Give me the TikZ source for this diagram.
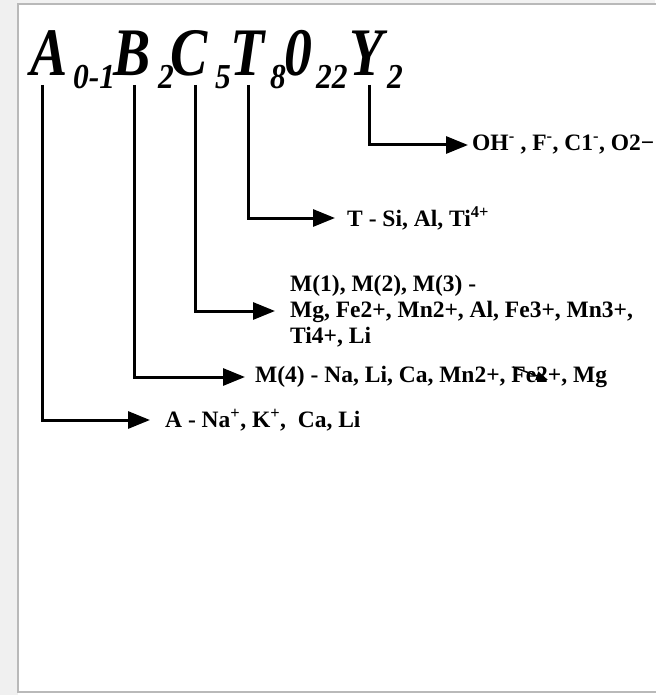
\documentclass[tikz,border=0pt]{standalone}
\usepackage{fontspec}
\usepackage{graphicx}
\setmainfont{Liberation Serif}
\usetikzlibrary{arrows.meta}
\newcommand{\bigsym}[1]{\scalebox{0.82}[1]{#1}}
\newcommand{\subsym}[1]{\scalebox{0.9}[1]{#1}}
\begin{document}
\begin{tikzpicture}[x=1pt,y=-1pt,
  big/.style={anchor=base west,inner sep=0pt,font=\fontsize{68}{68}\selectfont\bfseries\itshape},
  sub/.style={anchor=base west,inner sep=0pt,font=\fontsize{35}{35}\selectfont\bfseries\itshape},
  lab/.style={anchor=west,inner xsep=0pt,inner ysep=0pt,font=\fontsize{23.5}{26}\selectfont\bfseries,align=left},
  conn/.style={line width=3pt,-{Triangle[length=22pt,width=17pt]}},
  frame/.style={draw=gray!55,line width=1.5pt}]
\useasboundingbox (0,0) rectangle (655,695);
\fill[gray!10] (0,0) rectangle (655,4);
\fill[gray!12] (0,0) rectangle (18,695);
\fill[white] (18,4) rectangle (655,692);
\draw[frame] (660,4) -- (18,4) -- (18,692) -- (660,692);
% formula
\node[big] (A) at (30,76) {\bigsym{A}};
\node[sub] (s1) at (73,89) {\subsym{0-1}};
\node[big] (B) at (113,76) {\bigsym{B}};
\node[sub] (s2) at (158,89) {\subsym{2}};
\node[big] (C) at (170,76) {\bigsym{C}};
\node[sub] (s3) at (215,89) {\subsym{5}};
\node[big] (T) at (230,76) {\bigsym{T}};
\node[sub] (s4) at (270,89) {\subsym{8}};
\node[big] (O) at (284,76) {\bigsym{0}};
\node[sub] (s5) at (316,89) {\subsym{22}};
\node[big] (Y) at (349,76) {\bigsym{Y}};
\node[sub] (s6) at (387,89) {\subsym{2}};
\coordinate (a0) at (42,85);
\coordinate (b0) at (134,85);
\coordinate (c0) at (195,85);
\coordinate (t0) at (248,85);
\coordinate (y0) at (369,85);
% labels
\node[lab] (LY) at (472,145) {OH\textsuperscript{-} , F\textsuperscript{-}, C1\textsuperscript{-}, O2−};
\node[lab] (LT) at (347,218) {T - Si, Al, Ti\textsuperscript{4+}};
\node[lab] (LC) at (290,311) {M(1), M(2), M(3) -\\Mg, Fe2+, Mn2+, Al, Fe3+, Mn3+,\\Ti4+, Li};
\node[lab] (LB) at (255,377) {M(4) - Na, Li, Ca, Mn2+, Fe2+, Mg};
\node[lab] (LA) at (165,420) {A - Na\textsuperscript{+}, K\textsuperscript{+},\ \ Ca, Li};
% connectors
\draw[conn,shorten >=4pt] (y0) |- (LY.west);
\draw[conn,shorten >=12pt] (t0) |- (LT.west);
\draw[conn,shorten >=15pt] (c0) |- (LC.west);
\draw[conn,shorten >=10pt] (b0) |- (LB.west);
\draw[conn,shorten >=15pt] (a0) |- (LA.west);
% stray mark
\coordinate (m0) at (513,367);
\coordinate (m1) at (548,380);
\draw[line width=1.5pt,-{Triangle[length=12pt,width=9pt]}] (m0) -- (m1);
\end{tikzpicture}
\end{document}
